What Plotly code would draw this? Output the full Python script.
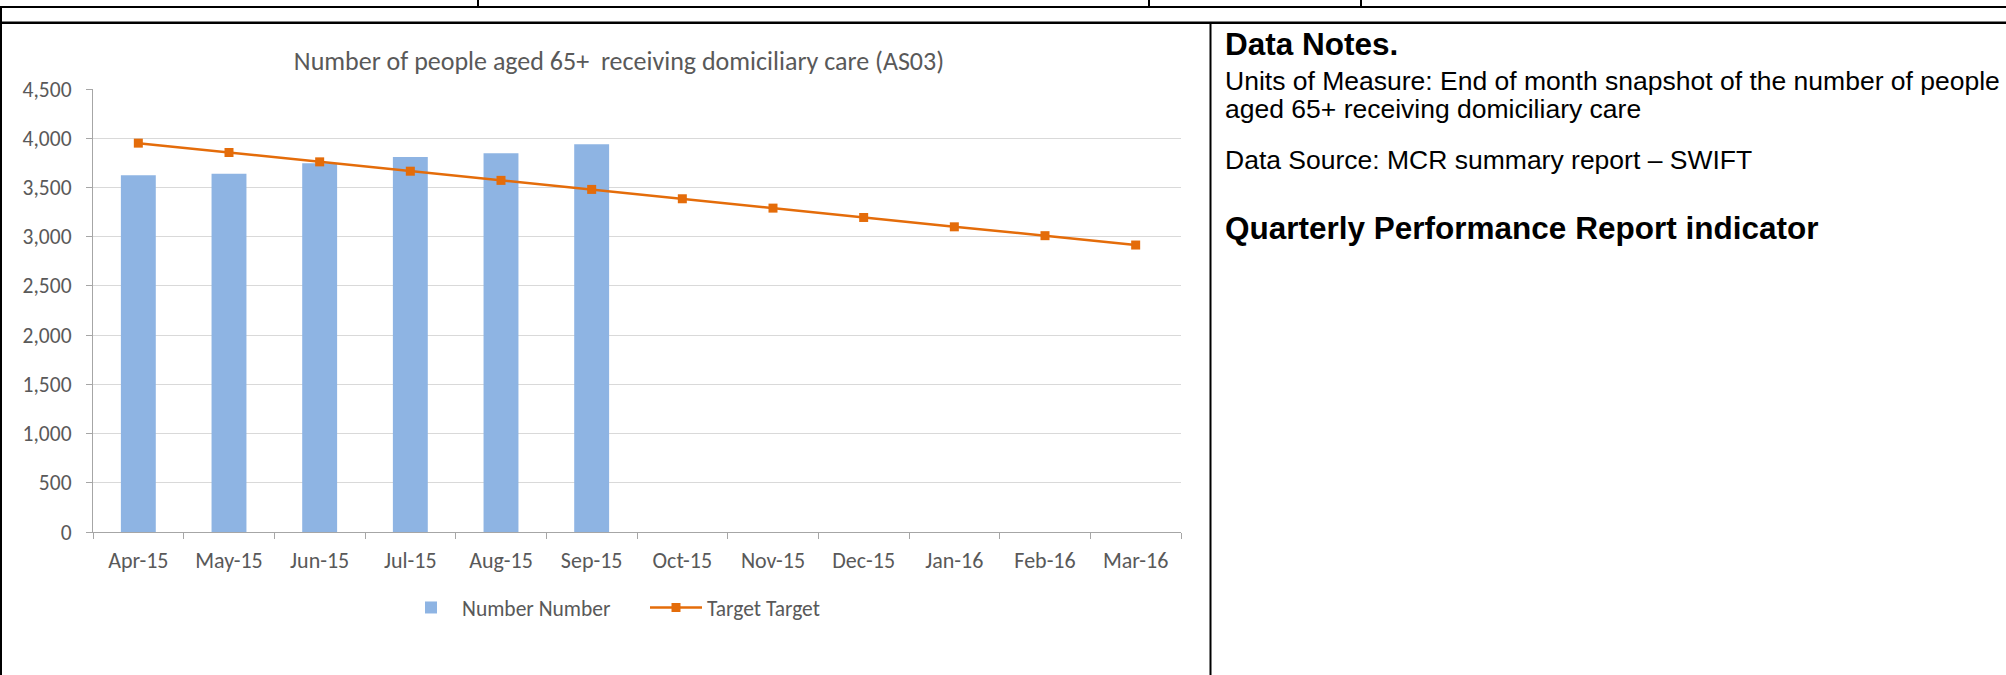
import plotly.graph_objects as go

# ---- data ----
months = ["Apr-15", "May-15", "Jun-15", "Jul-15", "Aug-15", "Sep-15",
          "Oct-15", "Nov-15", "Dec-15", "Jan-16", "Feb-16", "Mar-16"]
number_values = [3625, 3640, 3745, 3810, 3848, 3940,
                 None, None, None, None, None, None]
target_values = [3950, 3855, 3760, 3665, 3572, 3480,
                 3385, 3290, 3195, 3100, 3010, 2915]
y_ticks = [0, 500, 1000, 1500, 2000, 2500, 3000, 3500, 4000, 4500]
chart_title = "Number of people aged 65+  receiving domiciliary care (AS03)"

# ---- page geometry (pixels) ----
W, H = 2006, 675
L, R, T, B = 93, 1181, 89, 532   # plot area edges


def px(x):
    return (x - L) / (R - L)


def py(y):
    return (B - y) / (B - T)


BAR_COLOR = "#8EB4E3"
LINE_COLOR = "#E46C0A"
TXT = "#595959"
CHART_FONT = "Carlito, Roboto, sans-serif"
DOC_FONT = "Liberation Sans, Arial, sans-serif"

fig = go.Figure()
fig.add_trace(go.Bar(
    x=months, y=number_values, name="Number Number",
    marker=dict(color=BAR_COLOR, line=dict(width=0)),
))
fig.add_trace(go.Scatter(
    x=months, y=target_values, name="Target Target", mode="lines+markers",
    line=dict(color=LINE_COLOR, width=2.5),
    marker=dict(symbol="square", size=9, color=LINE_COLOR),
))

fig.update_layout(
    width=W, height=H,
    margin=dict(l=L, r=W - R, t=T, b=H - B, pad=0),
    paper_bgcolor="white", plot_bgcolor="white",
    bargap=0.615,
    font=dict(family=CHART_FONT, size=21, color=TXT),
    title=dict(text=chart_title, xref="container", yref="container",
               x=619 / W, xanchor="center", y=1 - 61 / H, yanchor="middle",
               font=dict(family=CHART_FONT, size=26, color=TXT)),
    showlegend=True,
    legend=dict(orientation="h", xref="paper", yref="paper",
                x=px(400), xanchor="left", y=py(607.5), yanchor="middle",
                font=dict(family=CHART_FONT, size=21.5, color=TXT),
                itemwidth=52, entrywidth=178, entrywidthmode="pixels",
                tracegroupgap=0, bgcolor="rgba(0,0,0,0)"),
)

fig.update_xaxes(
    type="category", range=[-0.5, 11.5],
    showgrid=False, showline=True, linecolor="#a6a6a6", linewidth=1.3,
    ticks="outside", tickson="boundaries", ticklen=6, tickcolor="#a6a6a6",
    tickwidth=1.3, ticklabelstandoff=8,
    tickfont=dict(family=CHART_FONT, size=22, color=TXT),
)
fig.update_yaxes(
    range=[0, 4500], tickvals=y_ticks, tickformat=",",
    showgrid=True, gridcolor="#d9d9d9", gridwidth=1.3,
    showline=True, linecolor="#a6a6a6", linewidth=1.3,
    ticks="outside", ticklen=6, tickcolor="#a6a6a6", tickwidth=1.3,
    ticklabelstandoff=10, zeroline=False,
    tickfont=dict(family=CHART_FONT, size=21.5, color=TXT),
)

# ---- document table borders ----
def hline(y, x0, x1, w):
    fig.add_shape(type="line", xref="paper", yref="paper",
                  x0=px(x0), x1=px(x1), y0=py(y), y1=py(y),
                  line=dict(color="black", width=w), layer="above")


def vline(x, y0, y1, w):
    fig.add_shape(type="line", xref="paper", yref="paper",
                  x0=px(x), x1=px(x), y0=py(y0), y1=py(y1),
                  line=dict(color="black", width=w), layer="above")


hline(7, 0, W, 2)
hline(22.8, 0, W, 2.5)
for xv in (478, 1149, 1361):
    vline(xv, 0, 7, 2)
vline(1210.5, 22.8, H, 2)
vline(1, 7, H, 2)

# ---- data notes text ----
notes = [
    ("<b>Data Notes.</b>", 31.5, 44),
    ("Units of Measure: End of month snapshot of the number of people", 26.5, 81),
    ("aged 65+ receiving domiciliary care", 26.5, 109),
    ("Data Source: MCR summary report \u2013 SWIFT", 26.5, 160),
    ("<b>Quarterly Performance Report indicator</b>", 31.5, 228),
]
for txt, size, ymid in notes:
    fig.add_annotation(text=txt, xref="paper", yref="paper",
                       x=px(1224), y=py(ymid), xanchor="left", yanchor="middle",
                       showarrow=False, borderpad=0,
                       font=dict(family=DOC_FONT, size=size, color="black"))

fig.write_html(
    "out.html",
    config={"displayModeBar": False},
    post_script="document.body.style.margin='0';"
                "document.body.style.padding='0';"
                "document.body.style.overflow='hidden';",
)
